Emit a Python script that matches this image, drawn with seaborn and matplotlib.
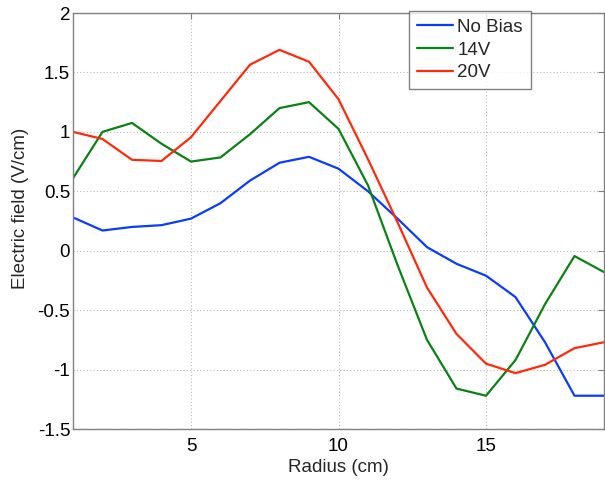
import numpy as np
import pandas as pd
import matplotlib
matplotlib.use("Agg")
import matplotlib.pyplot as plt
import seaborn as sns

radius = list(range(1, 20))
no_bias = [0.28, 0.17, 0.20, 0.215, 0.27, 0.40, 0.59, 0.74, 0.79, 0.69,
           0.50, 0.27, 0.03, -0.11, -0.21, -0.39, -0.77, -1.22, -1.22]
v14 = [0.61, 1.00, 1.075, 0.90, 0.75, 0.785, 0.98, 1.20, 1.25, 1.025,
       0.55, -0.12, -0.75, -1.16, -1.22, -0.92, -0.45, -0.045, -0.18]
v20 = [1.00, 0.94, 0.765, 0.755, 0.955, 1.26, 1.565, 1.69, 1.59, 1.275,
       0.77, 0.24, -0.31, -0.70, -0.95, -1.03, -0.96, -0.82, -0.77]
series_names = ["No Bias", "14V", "20V"]
colors = ["#0a3cff", "#0a8214", "#ff2a0a"]
x_ticks = [5, 10, 15]
y_ticks = [-1.5, -1, -0.5, 0, 0.5, 1, 1.5, 2]
y_labels = ["-1.5", "-1", "-0.5", "0", "0.5", "1", "1.5", "2"]

df = pd.DataFrame({
    "Radius": radius * 3,
    "E": no_bias + v14 + v20,
    "Series": [series_names[0]] * 19 + [series_names[1]] * 19 + [series_names[2]] * 19,
})

sns.set_style("white")
plt.rcParams["font.family"] = ["Liberation Sans", "DejaVu Sans"]

fig = plt.figure(figsize=(6.05, 4.83), dpi=100)
ax = fig.add_axes([73 / 605, 1 - 429 / 483, (604 - 73) / 605, (429 - 13) / 483])

sns.lineplot(data=df, x="Radius", y="E", hue="Series", hue_order=series_names,
             palette=colors, linewidth=1.6, ax=ax, legend=True)

ax.set_xlim(1, 19)
ax.set_ylim(-1.5, 2)
ax.set_xticks(x_ticks)
ax.set_xticklabels([str(t) for t in x_ticks])
ax.set_yticks(y_ticks)
ax.set_yticklabels(y_labels)
ax.grid(True, linestyle=(0, (1, 2)), color="#b8b8b8", linewidth=0.8)
ax.tick_params(axis="both", direction="in", length=4, color="#808080",
               labelsize=13.5, labelcolor="black", top=True, right=True)
ax.tick_params(axis="x", pad=6.5)
ax.tick_params(axis="y", pad=2)
for s in ax.spines.values():
    s.set_color("#808080")
    s.set_linewidth(1.0)
ax.set_xlabel("Radius (cm)", fontsize=13.5, labelpad=3)
ax.set_ylabel("Electric field (V/cm)", fontsize=13.5)
ax.yaxis.set_label_coords((29 - 73) / 531, (429 - 208) / 416)

leg = ax.legend(loc="upper left", bbox_to_anchor=((409 - 73) / 531, 1.005),
                fontsize=13.5, frameon=True, fancybox=False, borderpad=0.42,
                handlelength=1.9, handletextpad=0.25, labelspacing=0.3,
                borderaxespad=0)
leg.get_frame().set_edgecolor("#606060")
leg.get_frame().set_linewidth(1.0)
for line in leg.get_lines():
    line.set_linewidth(1.6)

fig.savefig("out.png", dpi=100)
